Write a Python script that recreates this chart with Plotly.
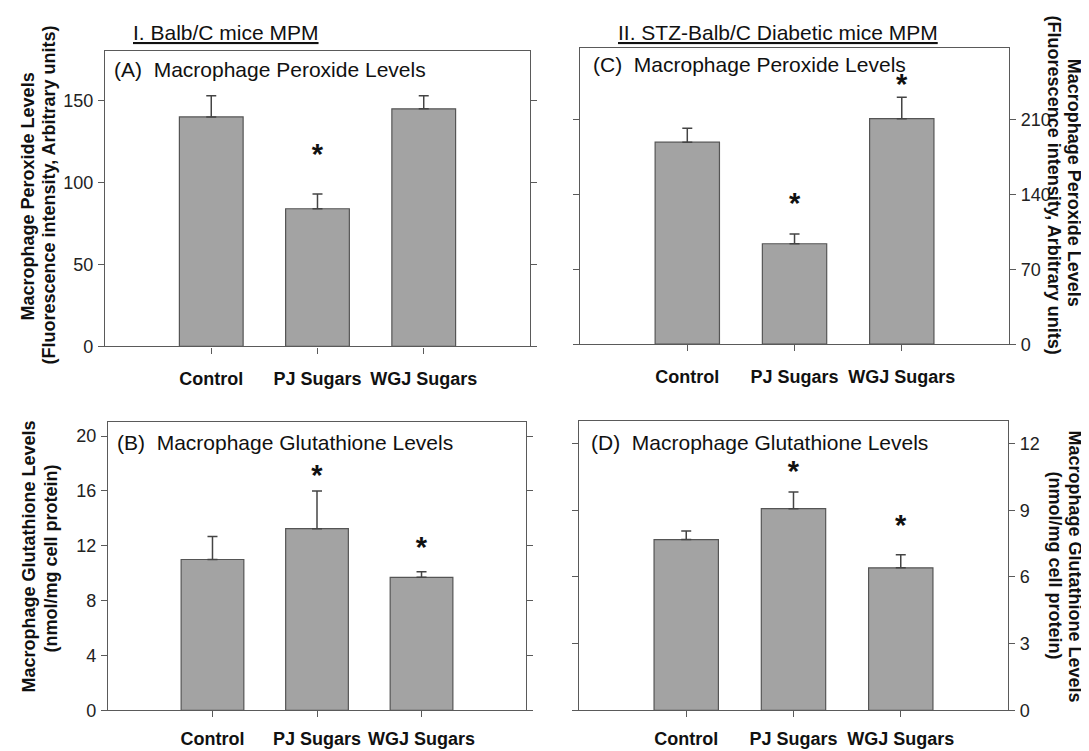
import plotly.graph_objects as go

categories = ["Control", "PJ Sugars", "WGJ Sugars"]

# (A) Balb/C peroxide
a_mean = [140, 84, 145]
a_err_top = [153, 93, 153]
a_star_x = ["PJ Sugars"]
a_star_y = [116]

# (C) STZ-Balb/C peroxide
c_mean = [189, 94, 211]
c_err_top = [202, 103, 231]
c_star_x = ["PJ Sugars", "WGJ Sugars"]
c_star_y = [130, 241]

# (B) Balb/C glutathione
b_mean = [11.0, 13.25, 9.7]
b_err_top = [12.67, 16.0, 10.1]
b_star_x = ["PJ Sugars", "WGJ Sugars"]
b_star_y = [17.0, 11.7]

# (D) STZ-Balb/C glutathione
d_mean = [7.68, 9.07, 6.41]
d_err_top = [8.07, 9.82, 7.0]
d_star_x = ["PJ Sugars", "WGJ Sugars"]
d_star_y = [10.63, 8.2]

a_ticks = [0, 50, 100, 150]
c_ticks = [0, 70, 140, 210]
b_ticks = [0, 4, 8, 12, 16, 20]
d_ticks = [0, 3, 6, 9, 12]

FONT = "Liberation Sans, Arial, Helvetica, sans-serif"
BAR = "#a3a3a3"
EDGE = "#555555"
AX = "#5a5a5a"

fig = go.Figure()

panels = [
    ("x", "y", a_mean, a_err_top, a_star_x, a_star_y),
    ("x2", "y2", c_mean, c_err_top, c_star_x, c_star_y),
    ("x3", "y3", b_mean, b_err_top, b_star_x, b_star_y),
    ("x4", "y4", d_mean, d_err_top, d_star_x, d_star_y),
]

for xa, ya, mean, etop, sx, sy in panels:
    fig.add_trace(go.Bar(
        x=categories, y=mean, xaxis=xa, yaxis=ya, width=0.6,
        marker=dict(color=BAR, line=dict(color=EDGE, width=1.2)),
        error_y=dict(type="data", symmetric=False,
                     array=[t - m for t, m in zip(etop, mean)],
                     arrayminus=[0] * len(mean),
                     color="#444444", thickness=1.5, width=5),
        showlegend=False, hoverinfo="skip",
    ))
    fig.add_trace(go.Scatter(
        x=sx, y=sy, xaxis=xa, yaxis=ya, mode="text", text=["*"] * len(sx),
        textposition="middle center",
        textfont=dict(family=FONT, size=29, color="#111111", weight="bold"),
        showlegend=False, hoverinfo="skip",
    ))


def xax(domain, anchor, standoff):
    return dict(domain=domain, anchor=anchor, range=[-1, 3], type="category",
                showline=True, mirror=True, linecolor=AX, linewidth=1.4,
                ticks="outside", ticklen=6, tickcolor=AX, tickwidth=1.2,
                ticklabelstandoff=standoff, showgrid=False, zeroline=False,
                tickfont=dict(family=FONT, size=18, color="#111111", weight="bold"))


def yax(domain, anchor, rng, ticks, side, showlabels):
    return dict(domain=domain, anchor=anchor, range=rng, side=side,
                tickvals=ticks, showticklabels=showlabels,
                showline=True, mirror="ticks", linecolor=AX, linewidth=1.4,
                ticks="outside", ticklen=6, tickcolor=AX, tickwidth=1.2,
                ticklabelstandoff=1,
                showgrid=False, zeroline=False,
                tickfont=dict(family=FONT, size=18, color="#222222"))


fig.update_layout(
    width=1089, height=751,
    margin=dict(l=0, r=0, t=0, b=0),
    paper_bgcolor="white", plot_bgcolor="white",
    font=dict(family=FONT, color="#111111"),
    bargap=0.4,
    xaxis=xax([0.0891, 0.4793], "y", 10),
    yaxis=yax([0.5433, 0.9414], "x", [0, 180], a_ticks, "left", True),
    xaxis2=xax([0.5253, 0.9192], "y2", 10),
    yaxis2=yax([0.5463, 0.9458], "x2", [0, 277], c_ticks, "right", True),
    xaxis3=xax([0.0918, 0.4757], "y3", 6),
    yaxis3=yax([0.0523, 0.4407], "x3", [0, 21], b_ticks, "left", True),
    xaxis4=xax([0.5243, 0.9183], "y4", 6),
    yaxis4=yax([0.0523, 0.4421], "x4", [0, 13], d_ticks, "right", True),
)

ann = []
# section titles
ann.append(dict(text="<u>I. Balb/C mice MPM</u>", x=218 / 1089, y=1 - 25 / 751,
                xref="paper", yref="paper", xanchor="center", yanchor="middle",
                showarrow=False, font=dict(family=FONT, size=21, color="#111111")))
ann.append(dict(text="<u>II. STZ-Balb/C Diabetic mice MPM</u>", x=770 / 1089, y=1 - 25 / 751,
                xref="paper", yref="paper", xanchor="center", yanchor="middle",
                showarrow=False, font=dict(family=FONT, size=21, color="#111111")))
# panel labels
for txt, x0, yc in [("(A)  Macrophage Peroxide Levels", 104, 62),
                    ("(C)  Macrophage Peroxide Levels", 583, 57),
                    ("(B)  Macrophage Glutathione Levels", 107, 440),
                    ("(D)  Macrophage Glutathione Levels", 581, 440)]:
    ann.append(dict(text=txt, x=x0 / 1089, y=1 - yc / 751, xref="paper", yref="paper",
                    xanchor="left", yanchor="middle", showarrow=False,
                    font=dict(family=FONT, size=21, color="#111111")))
# axis titles, one annotation per line
title_lines = [
    ("Macrophage Peroxide Levels", 20, 191, -90),
    ("(Fluorescence intensity, Arbitrary units)", 41, 190, -90),
    ("Macrophage Glutathione Levels", 21, 556, -90),
    ("(nmol/mg cell protein)", 43, 558, -90),
    ("Macrophage Peroxide Levels", 1066, 177, 90),
    ("(Fluorescence intensity, Arbitrary units)", 1046, 179, 90),
    ("Macrophage Glutathione Levels", 1067, 566, 90),
    ("(nmol/mg cell protein)", 1047, 565, 90),
]
for txt, xc, yc, ang in title_lines:
    ann.append(dict(text=txt, x=xc / 1089, y=1 - yc / 751, xref="paper", yref="paper",
                    xanchor="center", yanchor="middle", textangle=ang, showarrow=False,
                    font=dict(family=FONT, size=18, color="#111111", weight="bold")))

fig.update_layout(annotations=ann)
fig.write_html("out.html")
